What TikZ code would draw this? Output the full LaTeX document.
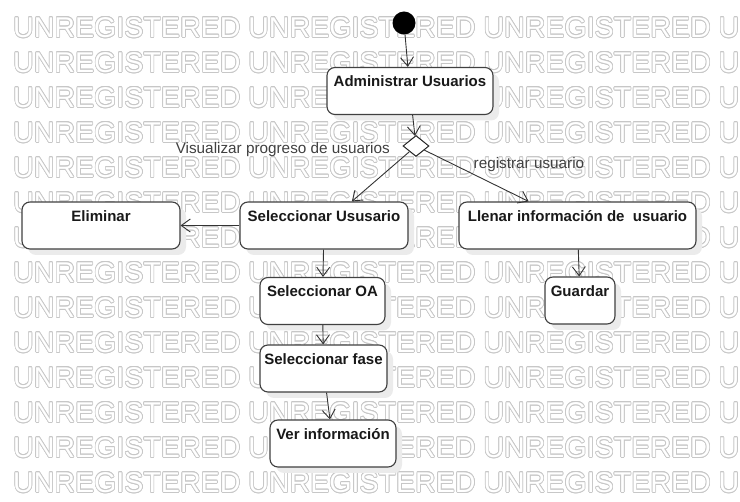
\documentclass[tikz,border=0pt]{standalone}
\usepackage{fontspec}
\setmainfont{Liberation Sans}
\usepackage[copies]{contour}
\contourlength{0.7pt}
\usetikzlibrary{arrows.meta,shadows,shapes.geometric}

\tikzset{
  accion/.style={draw=black!75, line width=1.1pt, rounded corners=8pt, fill=white,
    font=\bfseries\fontsize{15}{18}\selectfont, text=black!90,
    text height=10.5pt, text depth=18.5pt, inner xsep=0pt, inner ysep=9pt,
    minimum height=47pt,
    drop shadow={shadow xshift=6pt, shadow yshift=-6pt, fill=black!8, opacity=1}},
  flujo/.style={draw=black!80, line width=0.9pt,
    -{Straight Barb[length=9pt,width=13pt,line width=0.9pt]}},
  etiqueta/.style={font=\fontsize{15.3}{18}\selectfont, text=black!75, inner sep=0pt},
  marca/.style={font=\fontsize{28.6}{30}\selectfont, anchor=west, inner sep=0pt}
}

\begin{document}
\begin{tikzpicture}[x=1pt, y=-1pt]
    \useasboundingbox (0,0) rectangle (740,502);
    % marca de agua
    \begin{scope}
        \clip (0,0) rectangle (740,502);
        \foreach \r in {0,...,13}
            \node[marca] (wm\r) at (13,28+35*\r)
                {\contour{black!22}{\textcolor{white}{UNREGISTERED UNREGISTERED UNREGISTERED UNREGISTERED}}};
    \end{scope}

    % nodos
    \node[circle, fill=black, minimum size=23pt, inner sep=0pt] (inicio) at (404,23) {};
    \node[accion, minimum width=166pt] (admin) at (410,91) {Administrar Usuarios};
    \node[diamond, draw=black!85, line width=1pt, fill=white, minimum width=26pt,
          minimum height=21pt, inner sep=0pt] (decision) at (416,146) {};
    \node[accion, minimum width=158pt] (eliminar) at (101,225.5) {Eliminar};
    \node[accion, minimum width=168pt] (selusuario) at (324,225.5) {Seleccionar Ususario};
    \node[accion, minimum width=237pt] (llenar) at (577.5,225.5) {Llenar información de\ \ usuario};
    \node[accion, minimum width=70pt] (guardar) at (580,300.5) {Guardar};
    \node[accion, minimum width=125pt] (seloa) at (322.5,301) {Seleccionar OA};
    \node[accion, minimum width=127pt] (selfase) at (323.5,368.5) {Seleccionar fase};
    \node[accion, minimum width=126pt] (verinfo) at (333,443.5) {Ver información};

    % etiquetas
    \node[etiqueta, anchor=east] (lblvisualizar) at (390,150) {Visualizar progreso de usuarios};
    \node[etiqueta] (lblregistrar) at (529,165) {registrar usuario};

    % flujos
    \draw[flujo] (inicio) -- (admin);
    \draw[flujo] (admin) -- (decision);
    \draw[flujo] (decision) -- (selusuario);
    \draw[flujo] (decision) -- (llenar);
    \draw[flujo] (selusuario.west) -- (eliminar.east);
    \draw[flujo] (selusuario) -- (seloa);
    \draw[flujo] (seloa) -- (selfase);
    \draw[flujo] (selfase) -- (verinfo);
    \draw[flujo] (llenar) -- (guardar);
\end{tikzpicture}
\end{document}
